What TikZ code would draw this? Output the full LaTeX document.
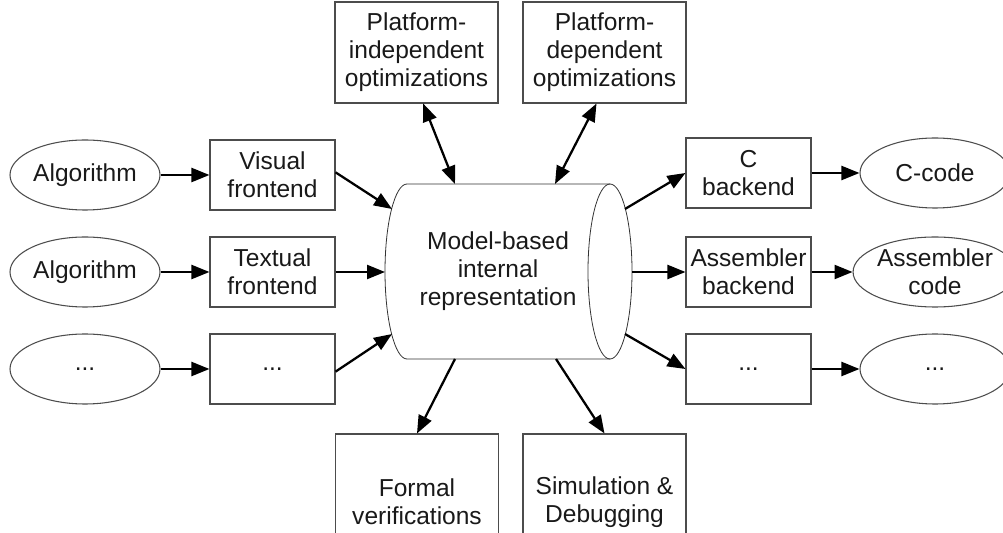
\documentclass[tikz,border=0pt]{standalone}
\usepackage{fontspec}
\setmainfont{Liberation Sans}
\usetikzlibrary{shapes.geometric,arrows.meta,calc}
\begin{document}
\begin{tikzpicture}[x=0.75pt,y=0.75pt,
  every node/.style={font=\fontsize{18.4pt}{21pt}\selectfont, align=center, text=black!90},
  box/.style={draw=black!70, line width=0.8pt, minimum width=93.75pt, minimum height=52.5pt, inner sep=0pt},
  bigbox/.style={draw=black!70, line width=0.8pt, minimum width=122.25pt, inner sep=0pt},
  oval/.style={ellipse, draw=black!70, line width=0.8pt, minimum width=112.5pt, minimum height=52.5pt, inner sep=0pt},
  conn/.style={line width=1.7pt, -{Triangle[length=13.5pt,width=10.5pt]}},
  dconn/.style={line width=1.7pt, {Triangle[length=13.5pt,width=10.5pt]}-{Triangle[length=13.5pt,width=10.5pt]}}
]
\useasboundingbox (0,0) rectangle (1003,532);

% left column
\node[oval] (alg1) at (85,357) {Algorithm};
\node[oval] (alg2) at (85,260) {Algorithm};
\node[oval] (alg3) at (85,163) {...};
\node[box] (vis) at (272.5,357) {Visual\\frontend};
\node[box] (tex) at (272.5,260) {Textual\\frontend};
\node[box] (ld) at (272.5,163) {...};

% right column
\node[box] (cb) at (748.5,359) {C\\backend};
\node[box] (ab) at (748.5,260) {Assembler\\backend};
\node[box] (rd) at (748.5,163) {...};
\node[oval] (cc) at (935,359) {C-code};
\node[oval] (ac) at (935,260) {Assembler\\code};
\node[oval] (ed) at (935,163) {...};

% top and bottom
\node[bigbox, minimum height=75.75pt] (pio) at (416.5,479.5) {Platform-\\independent\\optimizations};
\node[bigbox, minimum height=75.75pt] (pdo) at (604.5,479.5) {Platform-\\dependent\\optimizations};
\node[bigbox, minimum height=102pt] (fv) at (417,30) {Formal\\verifications};
\node[bigbox, minimum height=102pt] (sd) at (604.5,30) {Simulation \&\\Debugging};

% central cylinder
\draw[draw=black!80, line width=0.6pt]
  (610,348) -- (407,348) arc[start angle=90,end angle=270,x radius=22,y radius=87.5]
  -- (610,173) arc[start angle=-90,end angle=90,x radius=22,y radius=87.5];
\draw[draw=black!80, line width=0.6pt]
  (610,348) arc[start angle=90,end angle=270,x radius=22,y radius=87.5];
\node (ir) at (498,261) {Model-based\\internal\\representation};

\coordinate (cL1) at (392,323);
\coordinate (cL2) at (385,260);
\coordinate (cL3) at (392,198);
\coordinate (cR1) at (625,323);
\coordinate (cR2) at (632,260);
\coordinate (cR3) at (625,198);
\coordinate (cT1) at (455,348);
\coordinate (cT2) at (555,348);
\coordinate (cB1) at (455,173);
\coordinate (cB2) at (556,173);

% connectors
\draw[conn] (alg1) -- (vis);
\draw[conn] (alg2) -- (tex);
\draw[conn] (alg3) -- (ld);
\draw[conn] ([yshift=2pt]vis.east) -- (cL1);
\draw[conn] (tex.east) -- (cL2);
\draw[conn] ([yshift=-2pt]ld.east) -- (cL3);
\draw[conn] (cR1) -- (cb.west);
\draw[conn] (cR2) -- (ab.west);
\draw[conn] (cR3) -- (rd.west);
\draw[conn] (cb) -- (cc);
\draw[conn] (ab) -- (ac);
\draw[conn] (rd) -- (ed);
\draw[dconn] ([xshift=5pt]pio.south) -- (cT1);
\draw[dconn] ([xshift=-6pt]pdo.south) -- (cT2);
\draw[conn] (cB1) -- (fv.north);
\draw[conn] (cB2) -- (sd.north);
\end{tikzpicture}
\end{document}
